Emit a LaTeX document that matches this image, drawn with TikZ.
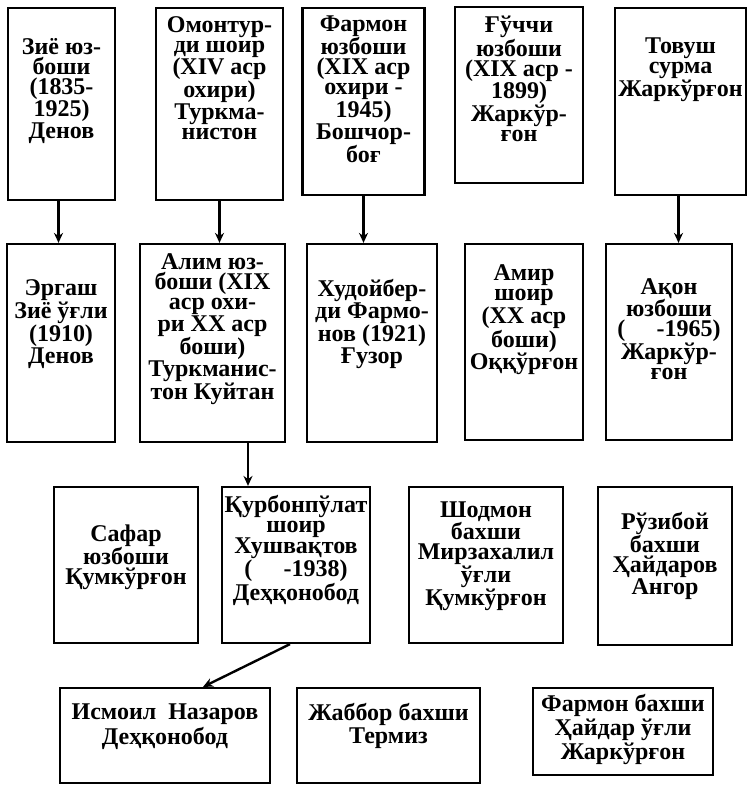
\documentclass[tikz,border=0pt]{standalone}
\usepackage{fontspec}
\setmainfont{Liberation Serif}
\usetikzlibrary{arrows.meta}

\begin{document}
\begin{tikzpicture}[x=1pt,y=-1pt,
box/.style={draw,line width=2.2pt,inner sep=0pt},
txt/.style={align=center,inner sep=0pt,font=\bfseries\fontsize{24}{20}\selectfont},
arr/.style={line width=2.4pt,-{Stealth[length=10pt,width=9pt]}}]
\useasboundingbox (0,0) rectangle (751,785);
% first row
\node[box,minimum width=107,minimum height=192](ziyo)at(61.5,104){};
\node[box,minimum width=127,minimum height=192](omon)at(219.5,104){};
\node[box,minimum width=122,minimum height=187](farmon)at(363.5,101.5){};
\node[box,minimum width=128,minimum height=176](guchchi)at(519,95){};
\node[box,minimum width=131,minimum height=187](tovush)at(680.5,101.5){};
\node[txt]at([yshift=13pt]ziyo.center){Зиё юз-\\боши\\(1835-\\1925)\\Денов};
\node[txt]at([yshift=26pt]omon.center){Омонтур-\\ди шоир\\(XIV аср\\охири)\\Туркма-\\нистон};
\node[txt]at([yshift=12pt]farmon.center){Фармон\\юзбоши\\(XIX аср\\охири -\\1945)\\Бошчор-\\боғ};
\node[txt]at([yshift=16pt]guchchi.center){Ғўччи\\юзбоши\\(XIX аср -\\1899)\\Жаркўр-\\ғон};
\node[txt]at([yshift=32pt]tovush.center){Товуш\\сурма\\Жаркўрғон};
% second row
\node[box,minimum width=108,minimum height=198](ergash)at(61,343){};
\node[box,minimum width=145,minimum height=198](alim)at(212.5,343){};
\node[box,minimum width=130,minimum height=198](xudoy)at(372,343){};
\node[box,minimum width=118,minimum height=196](amir)at(524,342){};
\node[box,minimum width=126,minimum height=196](aqon)at(669,342){};
\node[txt]at([yshift=19pt]ergash.center){Эргаш\\Зиё ўғли\\(1910)\\Денов};
\node[txt]at([yshift=14pt]alim.center){Алим юз-\\боши (XIX\\аср охи-\\ри XX аср\\боши)\\Туркманис-\\тон Куйтан};
\node[txt]at([yshift=19pt]xudoy.center){Худойбер-\\ди Фармо-\\нов (1921)\\Ғузор};
\node[txt]at([yshift=22pt]amir.center){Амир\\шоир\\(XX аср\\боши)\\Оққўрғон};
\node[txt]at([yshift=13pt]aqon.center){Ақон\\юзбоши\\(\hspace{1.3em}-1965)\\Жаркўр-\\ғон};
% third row
\node[box,minimum width=144,minimum height=156](safar)at(126,565){};
\node[box,minimum width=148,minimum height=156](qurbon)at(296,565){};
\node[box,minimum width=154,minimum height=156](shodmon)at(486,565){};
\node[box,minimum width=134,minimum height=158](ruzi)at(665,566){};
\node[txt]at([yshift=8pt]safar.center){Сафар\\юзбоши\\Қумкўрғон};
\node[txt]at([yshift=15pt]qurbon.center){Қурбонпўлат\\шоир\\Хушвақтов\\(\hspace{1.3em}-1938)\\Деҳқонобод};
\node[txt]at([yshift=9pt]shodmon.center){Шодмон\\бахши\\Мирзахалил\\ўғли\\Қумкўрғон};
\node[txt]at([yshift=10pt]ruzi.center){Рўзибой\\бахши\\Ҳайдаров\\Ангор};
% fourth row
\node[box,minimum width=210,minimum height=95](ismoil)at(165,735.5){};
\node[box,minimum width=183,minimum height=95](jabbor)at(388.5,735.5){};
\node[box,minimum width=180,minimum height=87](farmonb)at(623,731.5){};
\node[txt]at([yshift=9pt]ismoil.center){Исмоил~ Назаров\\[2pt]Деҳқонобод};
\node[txt]at([yshift=9.5pt]jabbor.center){Жаббор бахши\\[2pt]Термиз};
\node[txt]at([yshift=2pt]farmonb.center){Фармон бахши\\[1.5pt]Ҳайдар ўғли\\[1.5pt]Жаркўрғон};
% arrows
\draw[arr]([xshift=-3pt]ziyo.south)--([xshift=-3pt]ziyo.south|-ergash.north);
\draw[arr](omon.south)--(omon.south|-alim.north);
\draw[arr](farmon.south)--(farmon.south|-xudoy.north);
\draw[arr]([xshift=-2pt]tovush.south)--([xshift=-2pt]tovush.south|-aqon.north);
\draw[arr]([xshift=35.5pt]alim.south)--([xshift=35.5pt]alim.south|-qurbon.north);
\draw[arr]([xshift=-6pt]qurbon.south)--([xshift=38pt]ismoil.north);
\end{tikzpicture}
\end{document}
